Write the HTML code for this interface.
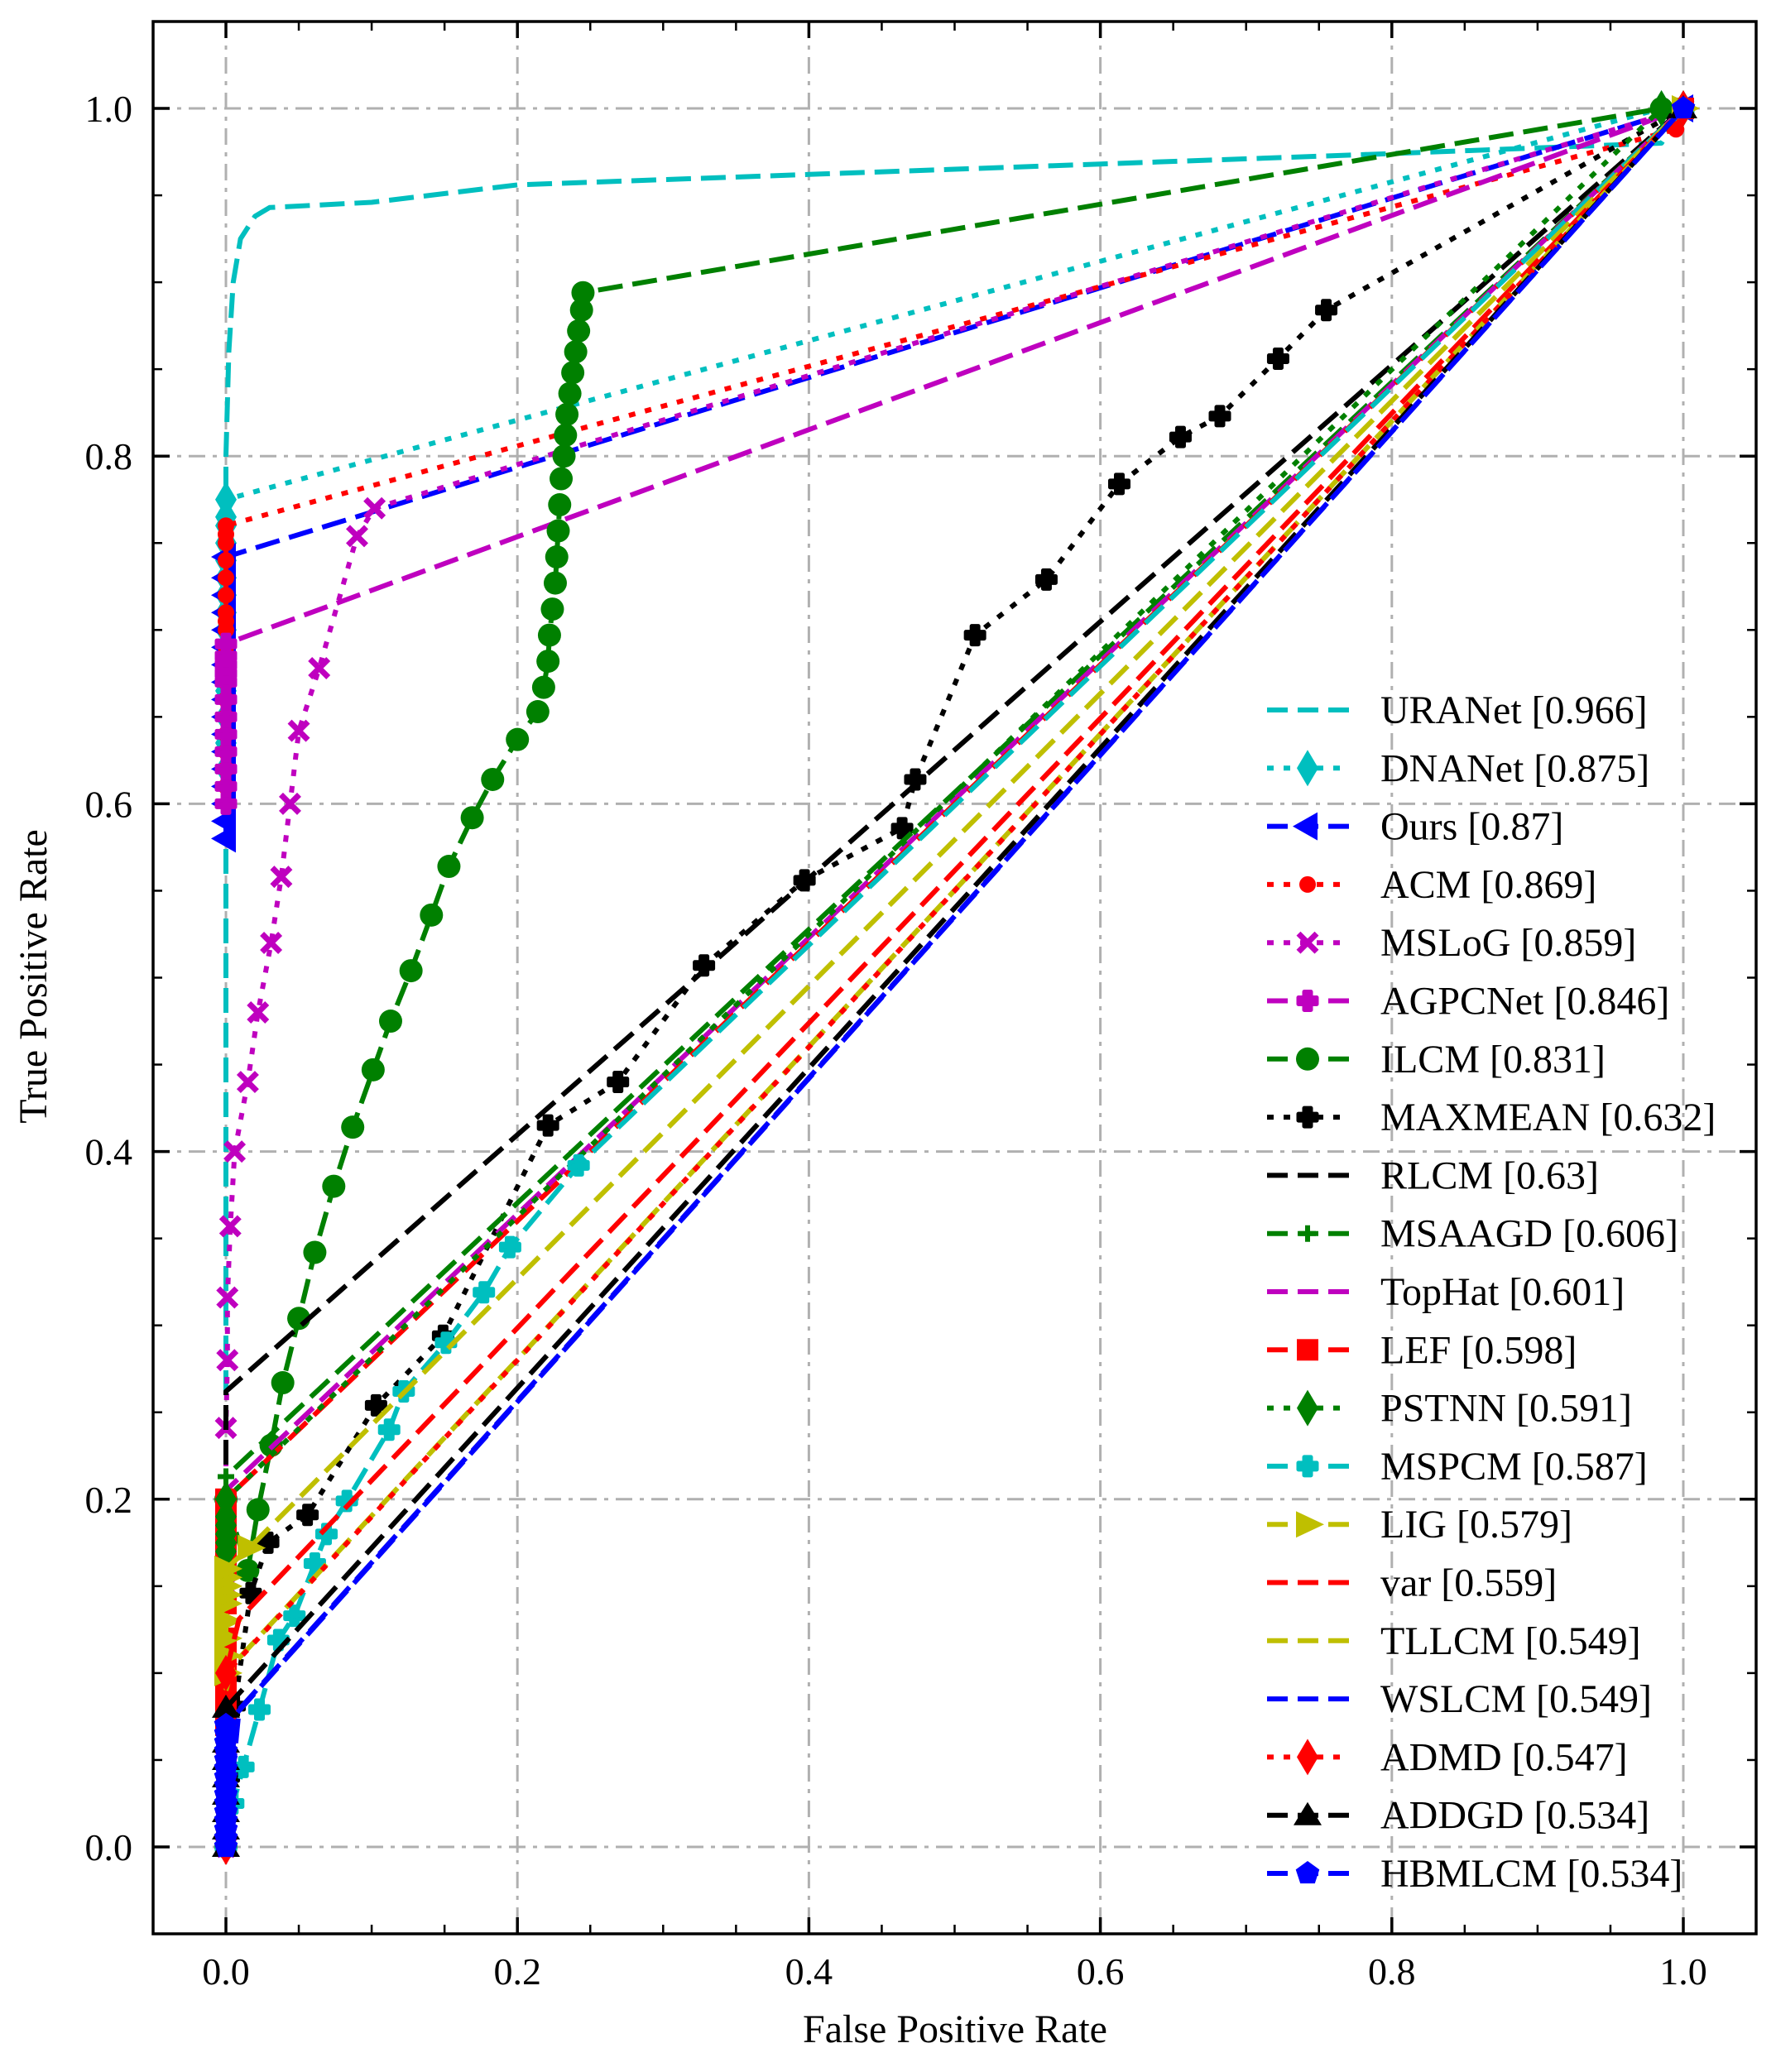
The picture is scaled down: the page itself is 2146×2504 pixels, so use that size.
<!DOCTYPE html>
<html><head><meta charset="utf-8">
<style>
html,body{margin:0;padding:0;background:#fff;}
svg{display:block;font-family:"Liberation Serif",serif;}
</style></head>
<body>
<svg id="chart" width="2146" height="2504" viewBox="0 0 2146 2504" xmlns="http://www.w3.org/2000/svg">
<rect x="0" y="0" width="2146" height="2504" fill="#fff"/>
<g id="grid"></g>
<g id="plot"></g>
<g id="legend"></g>
<g id="axes"></g>
<text x="1154" y="2468" font-size="48" text-anchor="middle">False Positive Rate</text>
<text x="0" y="0" font-size="48" text-anchor="middle" transform="translate(56,1180) rotate(-90)">True Positive Rate</text>
</svg>
<script>
const xTicks = [0.0, 0.2, 0.4, 0.6, 0.8, 1.0];
const yTicks = [0.0, 0.2, 0.4, 0.6, 0.8, 1.0];
const xTickLabels = ["0.0","0.2","0.4","0.6","0.8","1.0"];
const yTickLabels = ["0.0","0.2","0.4","0.6","0.8","1.0"];
const names = ["URANet","DNANet","Ours","ACM","MSLoG","AGPCNet","ILCM","MAXMEAN","RLCM","MSAAGD","TopHat","LEF","PSTNN","MSPCM","LIG","var","TLLCM","WSLCM","ADMD","ADDGD","HBMLCM"];
const aucs = ["0.966","0.875","0.87","0.869","0.859","0.846","0.831","0.632","0.63","0.606","0.601","0.598","0.591","0.587","0.579","0.559","0.549","0.549","0.547","0.534","0.534"];

const uranetX = [0,0,0,0.002,0.005,0.01,0.02,0.03,0.1,0.2,0.4,0.6,0.8,0.985,1];
const uranetY = [0,0.4,0.8,0.86,0.9,0.925,0.938,0.943,0.946,0.956,0.962,0.968,0.974,0.98,1];
const dnanetX = [0,0,0,0,0,0,0,0,0,0,0,0,0,0,0,0.985,1];
const dnanetY = [0.62,0.635,0.65,0.665,0.68,0.69,0.7,0.71,0.72,0.73,0.74,0.75,0.76,0.765,0.775,1,1];
const oursX = [0,0,0,0,0,0,0,0,0,0,0,0,0,0,0,0,0,1];
const oursY = [0.58,0.59,0.6,0.61,0.62,0.63,0.64,0.65,0.66,0.67,0.68,0.69,0.7,0.71,0.72,0.73,0.742,1];
const acmX = [0,0,0,0,0,0,0,0,0,0,0,0,0,0,0,0,0,0,0.995,1];
const acmY = [0.61,0.62,0.63,0.64,0.65,0.66,0.67,0.68,0.69,0.7,0.705,0.71,0.72,0.73,0.74,0.75,0.755,0.76,0.988,1];
const mslogX = [0,0,0,0,0,0.001,0.001,0.003,0.006,0.015,0.022,0.031,0.038,0.044,0.05,0.064,0.09,0.102,1];
const mslogY = [0,0.05,0.1,0.15,0.241,0.28,0.316,0.357,0.4,0.44,0.48,0.52,0.558,0.6,0.642,0.678,0.754,0.77,1];
const agpcnetX = [0,0,0,0,0,0,0,0,0,0,0,0,1];
const agpcnetY = [0.6,0.61,0.62,0.63,0.64,0.65,0.66,0.67,0.675,0.68,0.685,0.692,1];
const ilcmX = [0,0,0.015,0.022,0.031,0.039,0.05,0.061,0.074,0.087,0.101,0.113,0.127,0.141,0.153,0.169,0.183,0.2,0.214,0.218,0.221,0.222,0.224,0.226,0.227,0.228,0.229,0.23,0.232,0.233,0.234,0.236,0.238,0.24,0.242,0.244,0.245,0.985,1];
const ilcmY = [0,0.2,0.159,0.194,0.231,0.267,0.304,0.342,0.38,0.414,0.447,0.475,0.504,0.536,0.564,0.592,0.614,0.637,0.653,0.667,0.682,0.697,0.712,0.727,0.742,0.757,0.772,0.787,0.8,0.812,0.824,0.836,0.848,0.86,0.872,0.884,0.894,1,1];
const maxmeanX = [0,0.002,0.006,0.017,0.029,0.056,0.103,0.149,0.221,0.269,0.328,0.397,0.464,0.473,0.514,0.563,0.613,0.655,0.682,0.722,0.755,1];
const maxmeanY = [0,0.04,0.081,0.146,0.175,0.191,0.254,0.294,0.415,0.44,0.507,0.556,0.586,0.614,0.697,0.729,0.784,0.811,0.823,0.856,0.884,1];
const rlcmX = [0,0,1];
const rlcmY = [0,0.262,1];
const msaagdX = [0,0,0,1];
const msaagdY = [0,0.1,0.213,1];
const tophatX = [0,0,1];
const tophatY = [0,0.205,1];
const lefX = [0,0,0,0,0,0,0,0,0,0,0,0,1];
const lefY = [0.07,0.08,0.09,0.1,0.11,0.12,0.14,0.16,0.17,0.18,0.19,0.2,1];
const pstnnX = [0,0,0,0,0,0,0,0.985,1];
const pstnnY = [0.16,0.17,0.175,0.18,0.185,0.19,0.2,1,1];
const mspcmX = [0,0.005,0.012,0.023,0.036,0.047,0.061,0.069,0.083,0.112,0.122,0.151,0.177,0.195,0.242,1];
const mspcmY = [0,0.025,0.046,0.079,0.119,0.133,0.163,0.18,0.199,0.24,0.262,0.29,0.319,0.345,0.392,1];
const ligX = [0,0,0,0,0,0,0,0,0,0.016,1];
const ligY = [0.1,0.11,0.12,0.13,0.14,0.145,0.15,0.155,0.16,0.172,1];
const varX = [0,0.009,1];
const varY = [0.1,0.131,1];
const tllcmX = [0,0.005,1];
const tllcmY = [0.09,0.105,1];
const wslcmX = [0,0.009,1];
const wslcmY = [0,0.079,1];
const admdX = [0,0,0,0,0,0,0,0,0,0,1];
const admdY = [0,0.01,0.02,0.03,0.04,0.05,0.06,0.07,0.08,0.1,1];
const addgdX = [0,0,0,0,0,0,0,0,1];
const addgdY = [0,0.01,0.02,0.03,0.04,0.05,0.06,0.08,1];
const hbmlcmX = [0,0,0,0,0,0,0,0,0,0,0,0,0,0,0,1];
const hbmlcmY = [0,0.005,0.01,0.015,0.02,0.025,0.03,0.035,0.04,0.045,0.05,0.055,0.06,0.065,0.07,1];

const NS = "http://www.w3.org/2000/svg";
const X0 = 273, X1 = 2034, Y0 = 2232, Y1 = 131;
const L = 185, R = 2122, T = 26, B = 2337;
function sx(v){ return X0 + v * (X1 - X0); }
function sy(v){ return Y0 - v * (Y0 - Y1); }
function mk(tag, attrs, parent){ const e = document.createElementNS(NS, tag); for (const k in attrs) e.setAttribute(k, attrs[k]); parent.appendChild(e); return e; }

const DASH = "30 12", DOT = "8 12";
const C = "#00bfbf", M = "#bf00bf", G = "#008000", Y = "#bfbf00";
const styles = [
 {c:C, d:DASH, m:null}, {c:C, d:DOT, m:"diamond"}, {c:"#0000ff", d:DASH, m:"tri-left"},
 {c:"#ff0000", d:DOT, m:"circle-s"}, {c:M, d:DOT, m:"x"}, {c:M, d:DASH, m:"plusf"},
 {c:G, d:DASH, m:"circle"}, {c:"#000", d:DOT, m:"plusf"}, {c:"#000", d:DASH, m:null},
 {c:G, d:DASH, m:"plus"}, {c:M, d:DASH, m:null}, {c:"#ff0000", d:DASH, m:"square"},
 {c:G, d:DOT, m:"diamond"}, {c:C, d:DASH, m:"plusf"}, {c:Y, d:DASH, m:"tri-right"},
 {c:"#ff0000", d:DASH, m:null}, {c:Y, d:DASH, m:null}, {c:"#0000ff", d:DASH, m:null},
 {c:"#ff0000", d:DOT, m:"diamond"}, {c:"#000", d:DASH, m:"tri-up"}, {c:"#0000ff", d:DASH, m:"pentagon"}
];
const seriesX = [uranetX,dnanetX,oursX,acmX,mslogX,agpcnetX,ilcmX,maxmeanX,rlcmX,msaagdX,tophatX,lefX,pstnnX,mspcmX,ligX,varX,tllcmX,wslcmX,admdX,addgdX,hbmlcmX];
const seriesY = [uranetY,dnanetY,oursY,acmY,mslogY,agpcnetY,ilcmY,maxmeanY,rlcmY,msaagdY,tophatY,lefY,pstnnY,mspcmY,ligY,varY,tllcmY,wslcmY,admdY,addgdY,hbmlcmY];

function marker(type, x, y, color, parent){
  let e;
  if (type === "circle") e = mk("circle", {cx:x, cy:y, r:14, fill:color}, parent);
  else if (type === "circle-s") e = mk("circle", {cx:x, cy:y, r:10, fill:color}, parent);
  else if (type === "diamond") e = mk("polygon", {points:`${x},${y-22} ${x+13},${y} ${x},${y+22} ${x-13},${y}`, fill:color}, parent);
  else if (type === "square") e = mk("rect", {x:x-13, y:y-13, width:26, height:26, fill:color}, parent);
  else if (type === "tri-left") e = mk("polygon", {points:`${x-18},${y} ${x+12},${y-17} ${x+12},${y+17}`, fill:color}, parent);
  else if (type === "tri-right") e = mk("polygon", {points:`${x+20},${y} ${x-14},${y-16} ${x-14},${y+16}`, fill:color}, parent);
  else if (type === "tri-up") e = mk("polygon", {points:`${x},${y-16} ${x+17},${y+12} ${x-17},${y+12}`, fill:color}, parent);
  else if (type === "pentagon") { let p=[]; for(let i=0;i<5;i++){const a=-Math.PI/2+i*2*Math.PI/5; p.push((x+15*Math.cos(a)).toFixed(1)+","+(y+15*Math.sin(a)).toFixed(1));} e = mk("polygon", {points:p.join(" "), fill:color}, parent); }
  else if (type === "x") e = mk("path", {d:`M${x-11},${y-11}L${x+11},${y+11}M${x-11},${y+11}L${x+11},${y-11}`, stroke:color, "stroke-width":7, fill:"none"}, parent);
  else if (type === "plus") e = mk("path", {d:`M${x-10},${y}L${x+10},${y}M${x},${y-10}L${x},${y+10}`, stroke:color, "stroke-width":6, fill:"none"}, parent);
  else if (type === "plusf") e = mk("path", {d:`M${x-4},${y-11}h8v7h7v8h-7v7h-8v-7h-7v-8h7z`, fill:color, stroke:color, "stroke-width":5, "stroke-linejoin":"round"}, parent);
  
  
  return e;
}

const grid = document.getElementById("grid");
xTicks.forEach(v => {
  const l = mk("line", {x1:sx(v), x2:sx(v), y1:T, y2:B, stroke:"#b0b0b0", "stroke-width":3, "stroke-dasharray":"20 9 5 9"}, grid);
  
  
});
yTicks.forEach(v => {
  const l = mk("line", {x1:L, x2:R, y1:sy(v), y2:sy(v), stroke:"#b0b0b0", "stroke-width":3, "stroke-dasharray":"20 9 5 9"}, grid);
  
  
});

const plot = document.getElementById("plot");
seriesX.forEach((xs, i) => {
  const ys = seriesY[i], st = styles[i];
  const g = mk("g", {}, plot);
  
  
  const pts = xs.map((x, j) => sx(x).toFixed(1) + "," + sy(ys[j]).toFixed(1)).join(" ");
  const pl = mk("polyline", {points:pts, fill:"none", stroke:st.c, "stroke-width":6, "stroke-dasharray":st.d, "stroke-linejoin":"round"}, g);
  
  
  if (st.m) xs.forEach((x, j) => marker(st.m, sx(x), sy(ys[j]), st.c, g));
});

const legend = document.getElementById("legend");
names.forEach((n, i) => {
  const st = styles[i], cy = 858 + i * 70.3;
  const g = mk("g", {}, legend);
  
  
  const l = mk("line", {x1:1531, x2:1630, y1:cy, y2:cy, stroke:st.c, "stroke-width":6, "stroke-dasharray": st.d === DASH ? "25 12" : "8 12"}, g);
  
  
  if (st.m) marker(st.m, 1580, cy, st.c, g);
  const t = mk("text", {x:1668, y:cy + 16, "font-size":48}, g);
  t.textContent = n + " [" + aucs[i] + "]";
  
  
});

const axes = document.getElementById("axes");
const frame = mk("rect", {x:L, y:T, width:R-L, height:B-T, fill:"none", stroke:"#000", "stroke-width":3.5}, axes);


for (let k = 0; k <= 20; k++) {
  const v = k * 0.05;
  const len = (k % 4 === 0) ? 20 : 11;
  const w = (k % 4 === 0) ? 3.5 : 2.5;
  const a = mk("line", {x1:sx(v), x2:sx(v), y1:B, y2:B-len, stroke:"#000", "stroke-width":w}, axes);
  
  
  const b = mk("line", {x1:sx(v), x2:sx(v), y1:T, y2:T+len, stroke:"#000", "stroke-width":w}, axes);
  
  
  const c = mk("line", {x1:L, x2:L+len, y1:sy(v), y2:sy(v), stroke:"#000", "stroke-width":w}, axes);
  
  
  const d = mk("line", {x1:R, x2:R-len, y1:sy(v), y2:sy(v), stroke:"#000", "stroke-width":w}, axes);
  
  
}
xTicks.forEach((v, i) => {
  const t = mk("text", {x:sx(v), y:2398, "font-size":46, "text-anchor":"middle"}, axes);
  t.textContent = xTickLabels[i];
  
  
});
yTicks.forEach((v, i) => {
  const t = mk("text", {x:160, y:sy(v) + 16, "font-size":46, "text-anchor":"end"}, axes);
  t.textContent = yTickLabels[i];
  
  
});
</script>
</body></html>
